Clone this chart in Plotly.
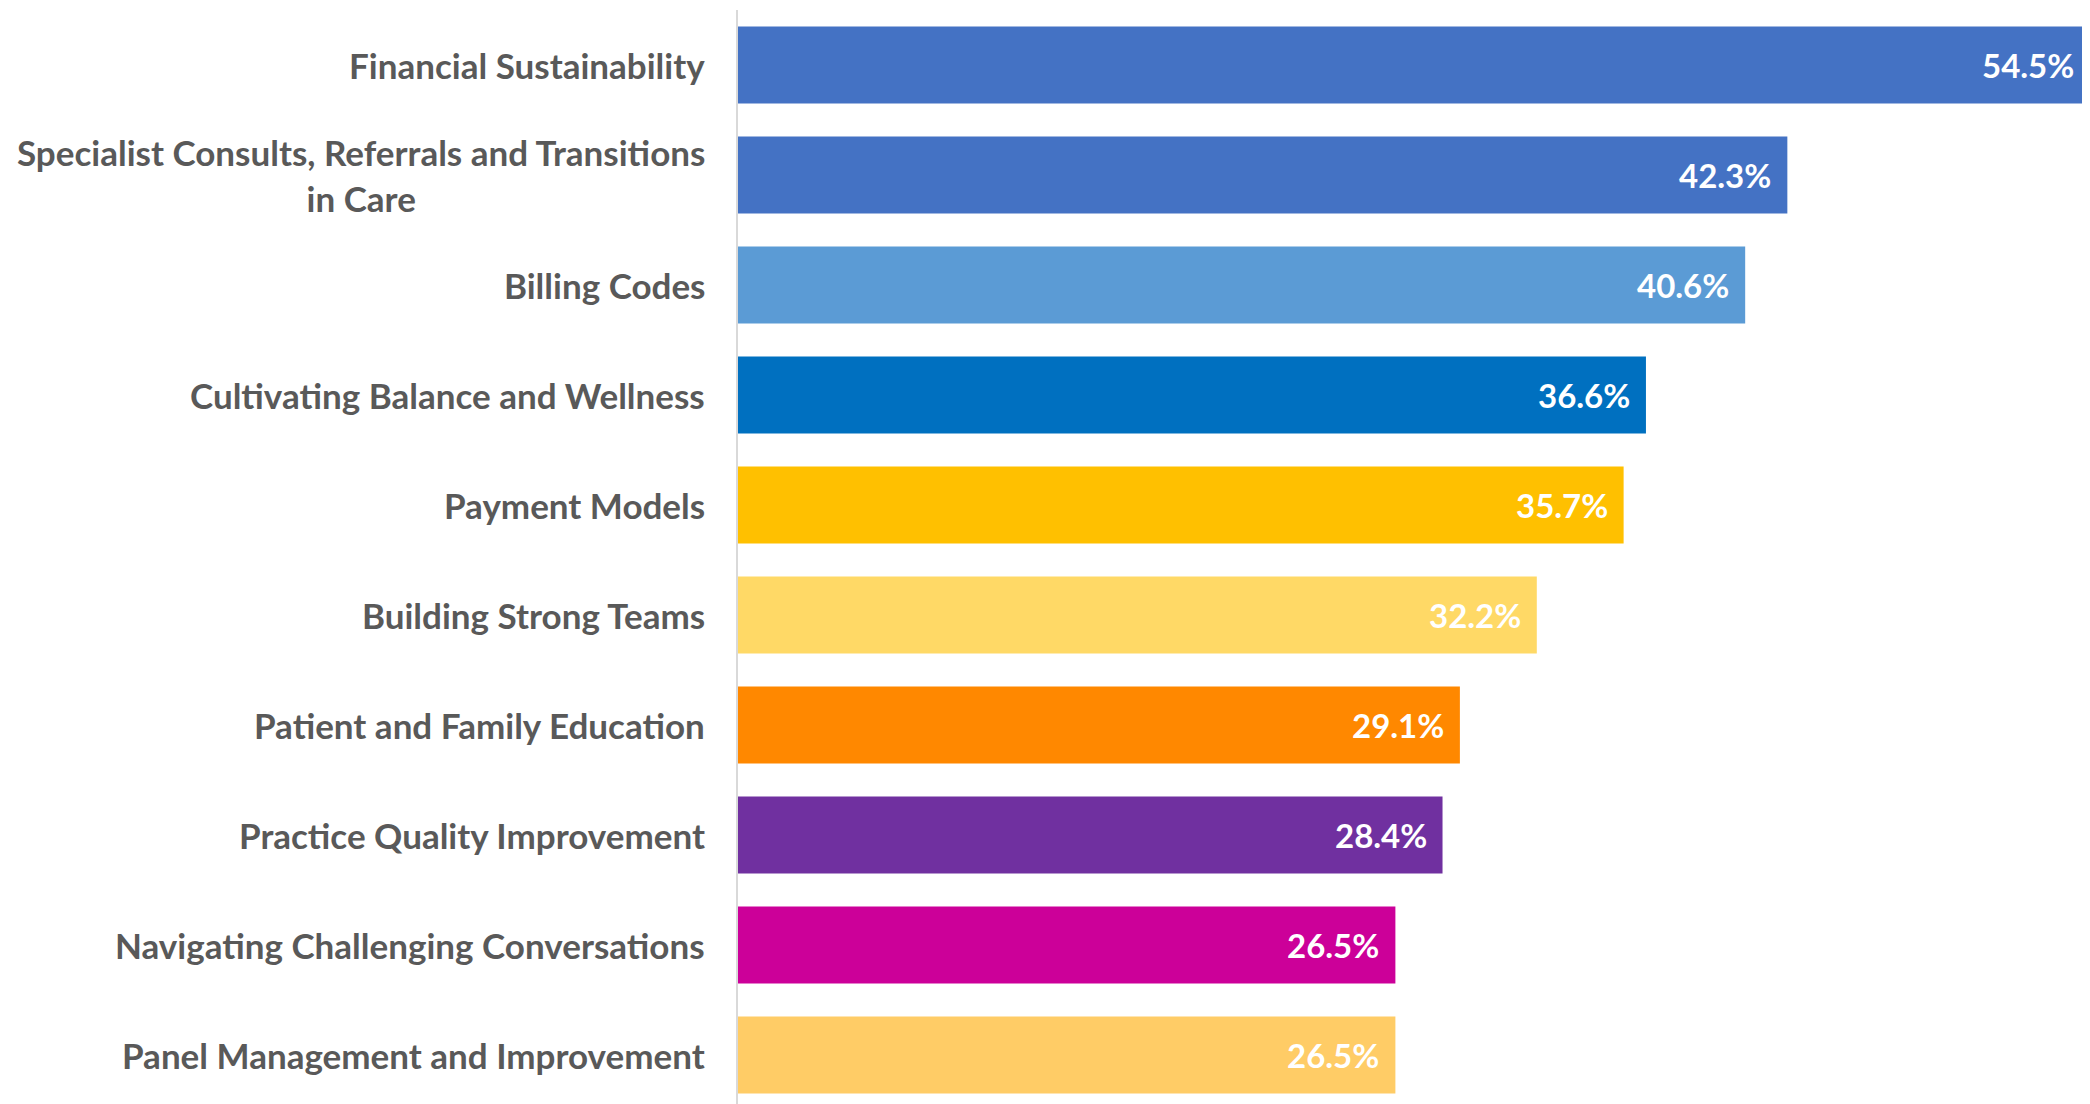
import plotly.graph_objects as go

# topics, top to bottom
topics = [
    "Financial Sustainability",
    "Specialist Consults, Referrals and Transitions in Care",
    "Billing Codes",
    "Cultivating Balance and Wellness",
    "Payment Models",
    "Building Strong Teams",
    "Patient and Family Education",
    "Practice Quality Improvement",
    "Navigating Challenging Conversations",
    "Panel Management and Improvement",
]
tick_text = [
    "Financial Sustainability",
    "Specialist Consults, Referrals and Transitions<br>in Care",
    "Billing Codes",
    "Cultivating Balance and Wellness",
    "Payment Models",
    "Building Strong Teams",
    "Patient and Family Education",
    "Practice Quality Improvement",
    "Navigating Challenging Conversations",
    "Panel Management and Improvement",
]
pct = [54.5, 42.3, 40.6, 36.6, 35.7, 32.2, 29.1, 28.4, 26.5, 26.5]
colors = ["#4472C4", "#4472C4", "#5B9BD5", "#0070C0", "#FFC000",
          "#FFD966", "#FF8800", "#7030A0", "#CC0099", "#FFCC66"]

FONT = "Lato"

fig = go.Figure(go.Bar(
    x=pct, y=topics, orientation="h",
    marker=dict(color=colors, line=dict(width=0)),
    hoverinfo="x+y",
))

# category labels (centered lines, right aligned to the axis)
for t, lab in zip(topics, tick_text):
    fig.add_annotation(x=0, xref="paper", y=t, yref="y", text=lab,
                       xanchor="right", yanchor="middle", align="center",
                       xshift=-31, showarrow=False,
                       font=dict(family=FONT, size=35, color="#595959", weight="bold"))

# value labels inside bar ends
for t, v in zip(topics, pct):
    fig.add_annotation(x=v, y=t, text=f"{v:.1f}%", xanchor="right", yanchor="middle",
                       xshift=-14, showarrow=False,
                       font=dict(family=FONT, size=33, color="white", weight="bold"))

# page body has a small margin, so the figure is sized to the visible area
fig.update_layout(
    width=2082, height=1096,
    margin=dict(l=730, r=0, t=2, b=0),
    paper_bgcolor="white", plot_bgcolor="white",
    bargap=0.3, showlegend=False,
    xaxis=dict(range=[0, 54.5], visible=False),
    yaxis=dict(categoryorder="array", categoryarray=topics, range=[9.445, -0.5],
               showticklabels=False, showgrid=False, zeroline=False,
               showline=True, linecolor="#D9D9D9", linewidth=2),
)

fig.write_html("out.html")
